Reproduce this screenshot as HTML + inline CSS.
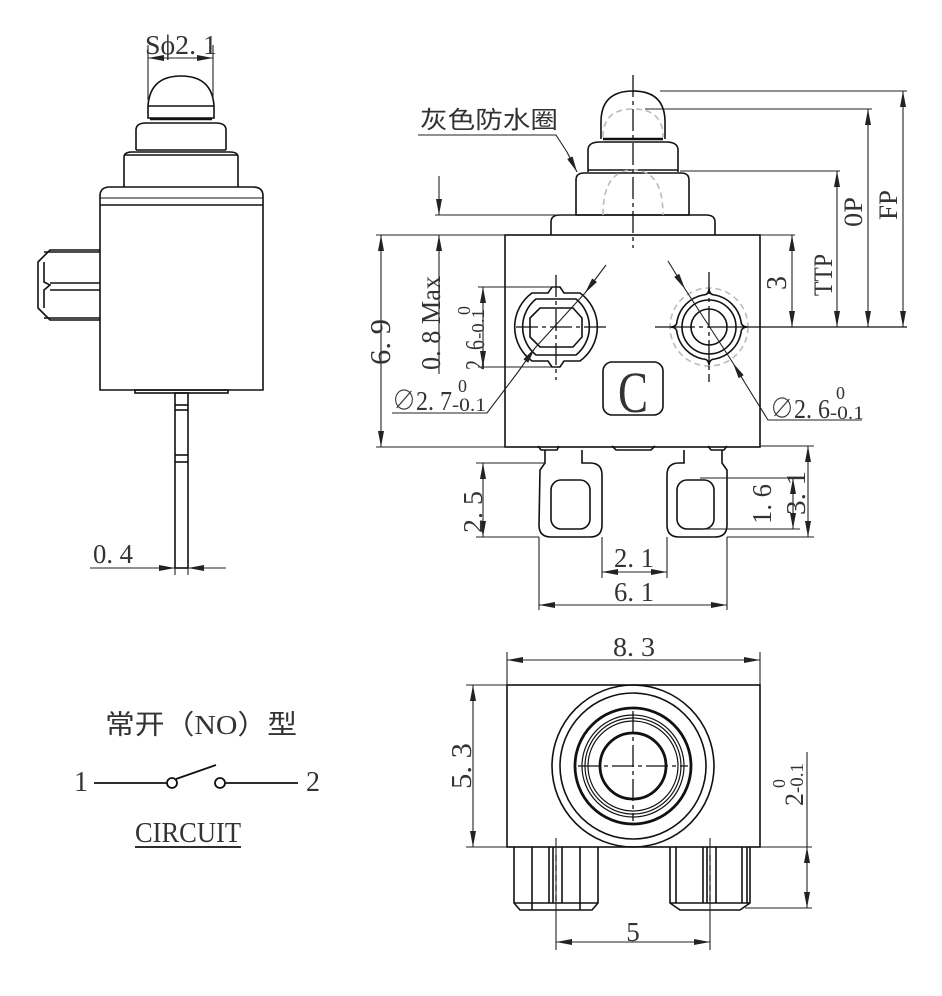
<!DOCTYPE html>
<html><head><meta charset="utf-8"><style>
html,body{margin:0;padding:0;background:#fff;}
svg{display:block;}
text{font-family:"Liberation Serif","Noto Serif CJK SC",serif;fill:#333;}
.cn{font-family:"Liberation Serif","Noto Sans CJK SC",sans-serif;}
</style></head><body>
<svg width="942" height="996" viewBox="0 0 942 996" xmlns="http://www.w3.org/2000/svg">
<defs>
<marker id="a" viewBox="0 0 16 6" refX="16" refY="3" markerWidth="16" markerHeight="6" markerUnits="userSpaceOnUse" orient="auto-start-reverse"><path d="M0,0 L16,3 L0,6 Z" fill="#222"/></marker>
</defs>
<g fill="none" stroke="#111" stroke-width="1.6">
<path d="M148,118 L148,106 Q150,76 181,76 Q212,76 214,106 L214,118 Z"/>
<line x1="148" y1="106" x2="214" y2="106"/>
<line x1="150" y1="119" x2="212" y2="119" stroke-width="2.5"/>
<path d="M136,150 L136,130 Q136,123 146,123 L216,123 Q226,123 226,130 L226,150"/>
<line x1="136" y1="150" x2="226" y2="150"/>
<path d="M124,187 L124,157 Q124,152 132,152 L230,152 Q238,152 238,157 L238,187"/>
<line x1="124" y1="155" x2="238" y2="155"/>
<path d="M100,390 L100,196 Q100,187 110,187 L253,187 Q263,187 263,196 L263,390 Z"/>
<line x1="100" y1="205" x2="263" y2="205"/>
<line x1="100" y1="198" x2="263" y2="198" stroke-width="1"/>
<path d="M100,250 L50,250 L38,262 L38,308 L50,320 L100,320"/>
<line x1="44" y1="252" x2="100" y2="252"/>
<line x1="44" y1="318" x2="100" y2="318"/>
<path d="M44,262 L44,282 L50,285 L44,290 L44,308"/>
<line x1="50" y1="283" x2="100" y2="283"/>
<line x1="50" y1="290" x2="100" y2="290"/>
<rect x="135" y="390" width="93" height="3"/>
<rect x="175" y="393" width="13" height="175"/>
<line x1="175" y1="405" x2="188" y2="405"/>
<line x1="175" y1="410" x2="188" y2="410"/>
<line x1="175" y1="455" x2="188" y2="455"/>
<line x1="175" y1="462" x2="188" y2="462"/>
</g>
<g fill="none" stroke="#222" stroke-width="1.1">
<line x1="148" y1="45" x2="148" y2="100"/>
<line x1="213" y1="45" x2="213" y2="100"/>
<line x1="148" y1="58" x2="181" y2="58" marker-start="url(#a)"/>
<line x1="181" y1="58" x2="213" y2="58" marker-end="url(#a)"/>
<line x1="175" y1="568" x2="175" y2="575"/>
<line x1="188" y1="568" x2="188" y2="575"/>
<line x1="90" y1="568" x2="175" y2="568" marker-end="url(#a)"/>
<line x1="226" y1="568" x2="188" y2="568" marker-end="url(#a)"/>
</g>
<text x="145" y="54" font-size="27" textLength="72" lengthAdjust="spacingAndGlyphs">Sϕ2. 1</text>
<text x="93" y="563" font-size="27" textLength="40" lengthAdjust="spacingAndGlyphs">0. 4</text>

<g fill="none" stroke="#111" stroke-width="1.6">
<path d="M601,139 L601,122 Q601,91 633,91 Q665,91 665,122 L665,139"/>
<line x1="603" y1="139" x2="663" y2="139" stroke-width="2.5"/>
<path d="M588,172 L588,150 Q588,142 600,142 L666,142 Q678,142 678,150 L678,172"/>
<line x1="588" y1="170" x2="678" y2="170"/>
<path d="M576,215 L576,180 Q576,173 584,173 L681,173 Q689,173 689,180 L689,215 Z"/>
<path d="M551,235 L551,222 Q551,215 560,215 L706,215 Q715,215 715,222 L715,235"/>
<rect x="505" y="235" width="255" height="212"/>
<rect x="603" y="362" width="60" height="53" rx="9"/>
<path d="M532,293 L548,293 L552,287 L560,287 L564,293 L580,293 A42,42 0 0 1 580,361 L564,361 L560,367 L552,367 L548,361 L532,361 A42,42 0 0 1 532,293 Z"/>
<path d="M536,299 L576,299 A36,36 0 0 1 576,355 L536,355 A36,36 0 0 1 536,299 Z"/>
<path d="M540,308 L573,308 L582,318 L582,337 L573,347 L540,347 L530,337 L530,318 Z"/>
<path d="M703,295 Q709,295 709,288 Q709,295 715,295 A33,33 0 0 1 741,321 Q741,327 748,327 Q741,327 741,333 A33,33 0 0 1 715,359 Q709,359 709,366 Q709,359 703,359 A33,33 0 0 1 677,333 Q677,327 670,327 Q677,327 677,321 A33,33 0 0 1 703,295 Z"/>
<circle cx="709" cy="327" r="27"/>
<circle cx="709" cy="327" r="18"/>
<path d="M538,446 L541,450 L557,450 L559,446"/>
<path d="M612,446 L616,450 L651,450 L655,446"/>
<path d="M708,446 L711,450 L724,450 L727,446"/>
<path d="M545,450 L545,463 L540,470 L539,525 Q539,537 551,537 L590,537 Q602,537 602,525 L602,475 Q602,463 590,463 L582,463 L582,450"/>
<rect x="551" y="480" width="39" height="49" rx="10"/>
<path d="M684,450 L684,463 L679,463 Q667,463 667,475 L667,525 Q667,537 679,537 L715,537 Q727,537 727,525 L727,470 L722,463 L722,450"/>
<rect x="677" y="480" width="37" height="49" rx="10"/>
</g>
<g fill="none" stroke="#bbb" stroke-width="1.6" stroke-dasharray="6,4">
<path d="M603,137 Q603,109 633,109 Q663,109 663,137"/>
<path d="M603,215 Q603,170 633,170 Q663,170 663,215"/>
<circle cx="709" cy="327" r="39"/>
</g>
<g fill="none" stroke="#111" stroke-width="1.3">
<line x1="633" y1="75" x2="633" y2="248" stroke-dasharray="22,4,4,4"/>
<line x1="516" y1="327" x2="610" y2="327" stroke-dasharray="22,4,4,4"/>
<line x1="556" y1="275" x2="556" y2="380" stroke-dasharray="22,4,4,4"/>
<line x1="655" y1="327" x2="907" y2="327" stroke-dasharray="40,4,4,4,400,0"/>
<line x1="709" y1="272" x2="709" y2="382" stroke-dasharray="22,4,4,4"/>
</g>
<g fill="none" stroke="#222" stroke-width="1.1">
<line x1="660" y1="91" x2="907" y2="91"/>
<line x1="645" y1="109" x2="872" y2="109"/>
<line x1="680" y1="171" x2="840" y2="171"/>
<line x1="760" y1="235" x2="795" y2="235"/>
<line x1="903" y1="327" x2="903" y2="91" marker-start="url(#a)" marker-end="url(#a)"/>
<line x1="868" y1="327" x2="868" y2="109" marker-start="url(#a)" marker-end="url(#a)"/>
<line x1="837" y1="327" x2="837" y2="171" marker-start="url(#a)" marker-end="url(#a)"/>
<line x1="792" y1="327" x2="792" y2="235" marker-start="url(#a)" marker-end="url(#a)"/>
<line x1="376" y1="235" x2="505" y2="235"/>
<line x1="376" y1="447" x2="505" y2="447"/>
<line x1="381" y1="447" x2="381" y2="235" marker-start="url(#a)" marker-end="url(#a)"/>
<line x1="435" y1="215" x2="576" y2="215"/>
<line x1="439" y1="176" x2="439" y2="215" marker-end="url(#a)"/>
<line x1="439" y1="374" x2="439" y2="235" marker-end="url(#a)"/>
<line x1="478" y1="287" x2="556" y2="287"/>
<line x1="478" y1="367" x2="556" y2="367"/>
<line x1="483" y1="367" x2="483" y2="287" marker-start="url(#a)" marker-end="url(#a)"/>
<polyline points="392,413 487,413 518,372"/>
<line x1="518" y1="372" x2="535" y2="348" marker-end="url(#a)"/>
<line x1="606" y1="265" x2="585" y2="293" marker-end="url(#a)"/>
<line x1="585" y1="293" x2="535" y2="348"/>
<polyline points="862,420 768,420 745,383"/>
<line x1="745" y1="383" x2="733" y2="363" marker-end="url(#a)"/>
<line x1="668" y1="261" x2="685" y2="289" marker-end="url(#a)"/>
<line x1="685" y1="289" x2="733" y2="363"/>
<polyline points="418,135 556,135 567,152"/>
<line x1="567" y1="152" x2="577" y2="172" marker-end="url(#a)"/>
<line x1="476" y1="463" x2="545" y2="463"/>
<line x1="476" y1="537" x2="539" y2="537"/>
<line x1="483" y1="537" x2="483" y2="463" marker-start="url(#a)" marker-end="url(#a)"/>
<line x1="760" y1="446" x2="814" y2="446"/>
<line x1="727" y1="537" x2="814" y2="537"/>
<line x1="808" y1="537" x2="808" y2="446" marker-start="url(#a)" marker-end="url(#a)"/>
<line x1="700" y1="478" x2="800" y2="478"/>
<line x1="700" y1="529" x2="800" y2="529"/>
<line x1="793" y1="529" x2="793" y2="478" marker-start="url(#a)" marker-end="url(#a)"/>
<line x1="602" y1="537" x2="602" y2="578"/>
<line x1="667" y1="537" x2="667" y2="578"/>
<line x1="602" y1="572" x2="667" y2="572" marker-start="url(#a)" marker-end="url(#a)"/>
<line x1="539" y1="537" x2="539" y2="610"/>
<line x1="727" y1="537" x2="727" y2="610"/>
<line x1="539" y1="605" x2="727" y2="605" marker-start="url(#a)" marker-end="url(#a)"/>
</g>
<text class="cn" x="420" y="128" font-size="24" textLength="138" lengthAdjust="spacingAndGlyphs">灰色防水圈</text>
<text x="633" y="412" font-size="58" text-anchor="middle" fill="#111" textLength="30" lengthAdjust="spacingAndGlyphs">C</text>
<text transform="translate(390,342) rotate(-90)" font-size="28" text-anchor="middle" textLength="46" lengthAdjust="spacingAndGlyphs">6. 9</text>
<text transform="translate(440,323) rotate(-90)" font-size="27" text-anchor="middle" textLength="94" lengthAdjust="spacingAndGlyphs">0. 8 Max</text>
<text transform="translate(484,370) rotate(-90)" font-size="27" textLength="30" lengthAdjust="spacingAndGlyphs">2. 6</text>
<text transform="translate(484,339) rotate(-90)" font-size="18" textLength="30" lengthAdjust="spacingAndGlyphs">-0.1</text>
<text transform="translate(470,315) rotate(-90)" font-size="18">0</text>
<text x="392" y="410" font-size="27" textLength="60" lengthAdjust="spacingAndGlyphs">∅2. 7</text>
<text x="452" y="411" font-size="19" textLength="34" lengthAdjust="spacingAndGlyphs">-0.1</text>
<text x="458" y="392" font-size="18">0</text>
<text x="770" y="418" font-size="27" textLength="60" lengthAdjust="spacingAndGlyphs">∅2. 6</text>
<text x="830" y="419" font-size="19" textLength="34" lengthAdjust="spacingAndGlyphs">-0.1</text>
<text x="836" y="399" font-size="18">0</text>
<text transform="translate(786,283) rotate(-90)" font-size="28" text-anchor="middle">3</text>
<text transform="translate(832,275) rotate(-90)" font-size="26" text-anchor="middle" textLength="42" lengthAdjust="spacingAndGlyphs">TTP</text>
<text transform="translate(862,212) rotate(-90)" font-size="26" text-anchor="middle" textLength="30" lengthAdjust="spacingAndGlyphs">0P</text>
<text transform="translate(897,205) rotate(-90)" font-size="26" text-anchor="middle" textLength="30" lengthAdjust="spacingAndGlyphs">FP</text>
<text transform="translate(482,512) rotate(-90)" font-size="27" text-anchor="middle" textLength="42" lengthAdjust="spacingAndGlyphs">2. 5</text>
<text transform="translate(771,504) rotate(-90)" font-size="27" text-anchor="middle" textLength="40" lengthAdjust="spacingAndGlyphs">1. 6</text>
<text transform="translate(805,493) rotate(-90)" font-size="27" text-anchor="middle" textLength="44" lengthAdjust="spacingAndGlyphs">3. 1</text>
<text x="634" y="567" font-size="27" text-anchor="middle" textLength="40" lengthAdjust="spacingAndGlyphs">2. 1</text>
<text x="634" y="601" font-size="27" text-anchor="middle" textLength="40" lengthAdjust="spacingAndGlyphs">6. 1</text>

<g fill="none" stroke="#111" stroke-width="1.6">
<rect x="507" y="685" width="253" height="162"/>
<circle cx="633" cy="766" r="81"/>
<circle cx="633" cy="766" r="73"/>
<circle cx="633" cy="766" r="58" stroke-width="2.8"/>
<circle cx="633" cy="766" r="51" stroke-width="1.2"/>
<circle cx="633" cy="766" r="48" stroke-width="1.2"/>
<circle cx="633" cy="766" r="45" stroke-width="1.2"/>
<circle cx="633" cy="766" r="33" stroke-width="2.8"/>
<path d="M514,847 L514,903 L520,910 L592,910 L598,903 L598,847"/>
<line x1="514" y1="903" x2="598" y2="903"/>
<line x1="532" y1="847" x2="532" y2="910"/>
<line x1="549" y1="847" x2="549" y2="903"/>
<line x1="553" y1="847" x2="553" y2="903"/>
<line x1="562" y1="847" x2="562" y2="903"/>
<line x1="580" y1="847" x2="580" y2="910"/>
<path d="M670,847 L670,903 L680,910 L740,910 L750,903 L750,847"/>
<line x1="670" y1="903" x2="750" y2="903"/>
<line x1="676" y1="847" x2="676" y2="903"/>
<line x1="703" y1="847" x2="703" y2="903"/>
<line x1="707" y1="847" x2="707" y2="903"/>
<line x1="716" y1="847" x2="716" y2="903"/>
<line x1="742" y1="847" x2="742" y2="903"/>
<line x1="747" y1="847" x2="747" y2="903"/>
</g>
<g fill="none" stroke="#111" stroke-width="1.3">
<line x1="578" y1="766" x2="688" y2="766" stroke-dasharray="22,4,4,4"/>
<line x1="633" y1="711" x2="633" y2="821" stroke-dasharray="22,4,4,4"/>
<line x1="556" y1="855" x2="556" y2="905" stroke-dasharray="6,4"/>
<line x1="710" y1="855" x2="710" y2="905" stroke-dasharray="6,4"/>
</g>
<g fill="none" stroke="#222" stroke-width="1.1">
<line x1="507" y1="652" x2="507" y2="685"/>
<line x1="760" y1="652" x2="760" y2="685"/>
<line x1="507" y1="660" x2="760" y2="660" marker-start="url(#a)" marker-end="url(#a)"/>
<line x1="466" y1="685" x2="507" y2="685"/>
<line x1="466" y1="847" x2="507" y2="847"/>
<line x1="473" y1="847" x2="473" y2="685" marker-start="url(#a)" marker-end="url(#a)"/>
<line x1="556" y1="838" x2="556" y2="950"/>
<line x1="710" y1="838" x2="710" y2="950"/>
<line x1="556" y1="942" x2="710" y2="942" marker-start="url(#a)" marker-end="url(#a)"/>
<line x1="760" y1="847" x2="812" y2="847"/>
<line x1="745" y1="908" x2="812" y2="908"/>
<line x1="807" y1="752" x2="807" y2="847"/>
<line x1="807" y1="847" x2="807" y2="908" marker-start="url(#a)" marker-end="url(#a)"/>
</g>
<text x="634" y="656" font-size="27" text-anchor="middle" textLength="42" lengthAdjust="spacingAndGlyphs">8. 3</text>
<text transform="translate(471,766) rotate(-90)" font-size="28" text-anchor="middle" textLength="46" lengthAdjust="spacingAndGlyphs">5. 3</text>
<text x="633" y="941" font-size="27" text-anchor="middle">5</text>
<text transform="translate(803,806) rotate(-90)" font-size="26">2</text>
<text transform="translate(803,793) rotate(-90)" font-size="19" textLength="30" lengthAdjust="spacingAndGlyphs">-0.1</text>
<text transform="translate(785,788) rotate(-90)" font-size="18">0</text>

<text class="cn" x="105" y="734" font-size="27" textLength="192" lengthAdjust="spacingAndGlyphs">常开（NO）型</text>
<text x="74" y="791" font-size="28">1</text>
<text x="306" y="791" font-size="28">2</text>
<g fill="none" stroke="#111" stroke-width="1.8">
<line x1="94" y1="783" x2="167" y2="783"/>
<circle cx="172" cy="783" r="5"/>
<line x1="176" y1="779" x2="216" y2="765"/>
<circle cx="220" cy="783" r="5"/>
<line x1="225" y1="783" x2="298" y2="783"/>
<line x1="135" y1="847" x2="241" y2="847"/>
</g>
<text x="135" y="842" font-size="28" textLength="106" lengthAdjust="spacingAndGlyphs">CIRCUIT</text>
</svg>
</body></html>
